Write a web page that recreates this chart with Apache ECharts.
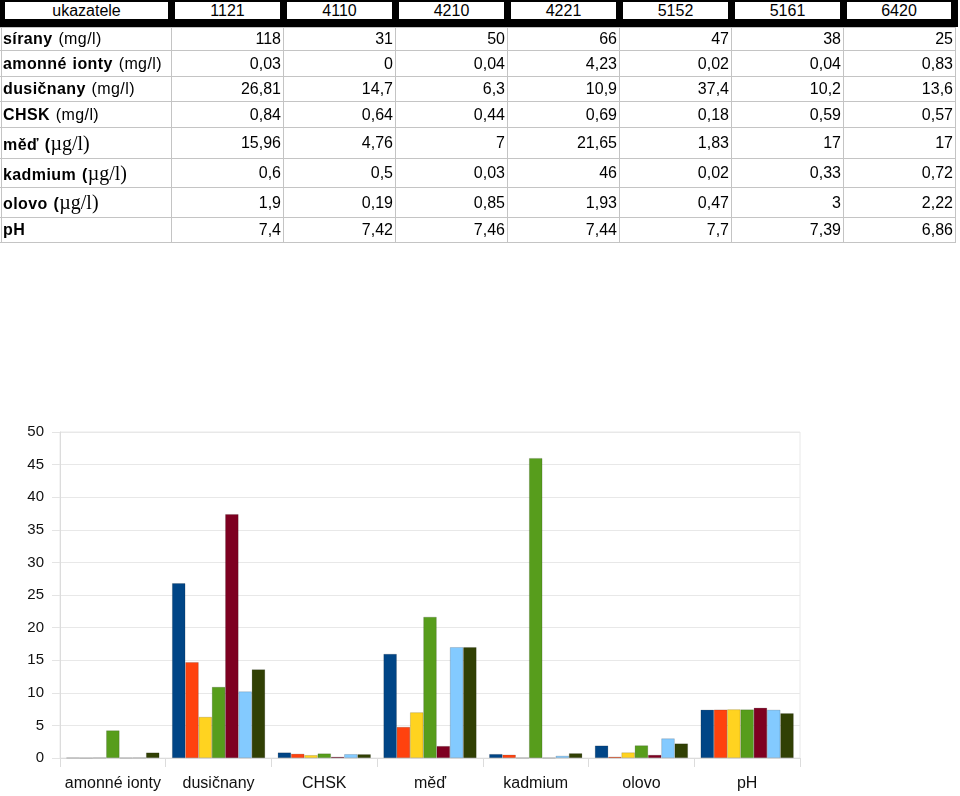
<!DOCTYPE html>
<html><head><meta charset="utf-8">
<script src="https://cdn.jsdelivr.net/npm/echarts@6/dist/echarts.min.js"></script>
<style>
html,body{margin:0;padding:0;background:#fff;}
#chart{position:absolute;left:0;top:0;width:960px;height:796px;}
#table{position:absolute;left:0;top:0;width:960px;height:250px;font-family:"Liberation Sans",Arial,sans-serif;font-size:16px;color:#000;}
.c{position:absolute;box-sizing:border-box;white-space:nowrap;}
.lab{letter-spacing:0.4px;word-spacing:1px;}
.serif{font-family:"Liberation Serif","Times New Roman",serif;font-size:20px;font-weight:normal;letter-spacing:0;}
</style></head><body>
<div id="chart"></div>
<div id="table"></div>
<script>
// ---- data ----
const headerLabel = 'ukazatele';
const stations = ['1121','4110','4210','4221','5152','5161','6420'];
const rowNames = ['sírany','amonné ionty','dusičnany','CHSK','měď','kadmium','olovo','pH'];
const rowUnits = ['mg/l','mg/l','mg/l','mg/l','µg/l','µg/l','µg/l',''];
const chartCategories = ['amonné ionty','dusičnany','CHSK','měď','kadmium','olovo','pH'];
const v1121 = [118, 0.03, 26.81, 0.84, 15.96, 0.6, 1.9, 7.4];
const v4110 = [31, 0, 14.7, 0.64, 4.76, 0.5, 0.19, 7.42];
const v4210 = [50, 0.04, 6.3, 0.44, 7, 0.03, 0.85, 7.46];
const v4221 = [66, 4.23, 10.9, 0.69, 21.65, 46, 1.93, 7.44];
const v5152 = [47, 0.02, 37.4, 0.18, 1.83, 0.02, 0.47, 7.7];
const v5161 = [38, 0.04, 10.2, 0.59, 17, 0.33, 3, 7.39];
const v6420 = [25, 0.83, 13.6, 0.57, 17, 0.72, 2.22, 6.86];
const yTicks = {min: 0, max: 50, interval: 5};

const stationValues = [v1121, v4110, v4210, v4221, v5152, v5161, v6420];
const colors = ['#004586','#ff420e','#ffd320','#579d1c','#7e0021','#83caff','#314004'];

// ---- table (HTML) ----
const colEdges = [0,171,283,395,507,619,731,843,955];
const rowEdges = [27,50,76,101,127,158,187,217,242];
const tbl = document.getElementById('table');
function el(style, html, cls) {
  const d = document.createElement('div');
  d.className = 'c' + (cls ? ' ' + cls : '');
  Object.assign(d.style, style);
  if (html !== undefined) d.innerHTML = html;
  tbl.appendChild(d);
  return d;
}
// header
el({left:'0px', top:'0px', width:'958px', height:'27px', background:'#000'});
const headers = [headerLabel].concat(stations);
for (let i = 0; i < 8; i++) {
  const a = colEdges[i], b = colEdges[i+1];
  const x0 = i === 0 ? 5 : a + 4;
  const x1 = i === 7 ? 951 : b - 3;
  el({left:x0+'px', top:'2px', width:(x1-x0)+'px', height:'17px', background:'#fff',
      textAlign:'center', lineHeight:'18px'}, headers[i]);
}
// grid lines
for (let r = 0; r < rowEdges.length; r++) {
  el({left:'0px', top:rowEdges[r]+'px', width:'956px', height:'1px', background:'#c4c4c4'});
}
for (let c = 0; c < colEdges.length; c++) {
  el({left:(colEdges[c] === 0 ? 1 : colEdges[c])+'px', top:'27px', width:'1px', height:(242-27)+'px', background:'#c4c4c4'});
}
function fmt(v){ return String(v).replace('.', ','); }
for (let r = 0; r < rowNames.length; r++) {
  const top = rowEdges[r] + 1, h = rowEdges[r+1] - rowEdges[r] - 1;
  let lab = '<b>' + rowNames[r] + '</b>';
  if (rowUnits[r] === 'mg/l') lab += ' (' + rowUnits[r] + ')';
  else if (rowUnits[r]) lab += '<b> (</b><span class="serif">' + rowUnits[r] + ')</span>';
  el({left:'3px', top:top+'px', width:'166px', height:h+'px', lineHeight:h+'px'}, lab, 'lab');
  for (let s = 0; s < stations.length; s++) {
    const a = colEdges[s+1], b = colEdges[s+2];
    el({left:a+'px', top:top+'px', width:(b-a-2)+'px', height:h+'px', lineHeight:h+'px', textAlign:'right'}, fmt(stationValues[s][r]));
  }
}

// ---- chart ----
const chart = echarts.init(document.getElementById('chart'), null, {renderer:'canvas'});
chart.setOption({
  animation: false,
  backgroundColor: '#fff',
  textStyle: {fontFamily: '"Liberation Sans", Arial, sans-serif'},
  grid: {left: 60, right: 160, top: 432, bottom: 38, show: true, borderColor: '#e8e8e8', borderWidth: 1},
  legend: {show: false},
  xAxis: {
    type: 'category',
    data: chartCategories,
    axisLine: {lineStyle: {color: '#dcdcdc'}},
    axisTick: {show: true, length: 9, lineStyle: {color: '#dcdcdc'}},
    axisLabel: {fontSize: 16, color: '#111', margin: 18, interval: 0}
  },
  yAxis: {
    type: 'value',
    min: yTicks.min, max: yTicks.max, interval: yTicks.interval,
    axisLine: {show: true, lineStyle: {color: '#dcdcdc'}},
    axisTick: {show: true, length: 8, lineStyle: {color: '#e4e4e4'}},
    splitLine: {lineStyle: {color: '#e8e8e8'}},
    axisLabel: {fontSize: 15, color: '#111', margin: 16}
  },
  series: stations.map((s, i) => ({
    name: s,
    type: 'bar',
    data: stationValues[i].slice(1),
    barGap: '0%',
    barCategoryGap: '12%',
    itemStyle: {color: colors[i], borderColor: 'rgba(0,0,0,0.25)', borderWidth: 0.6}
  }))
});
</script>
</body></html>
